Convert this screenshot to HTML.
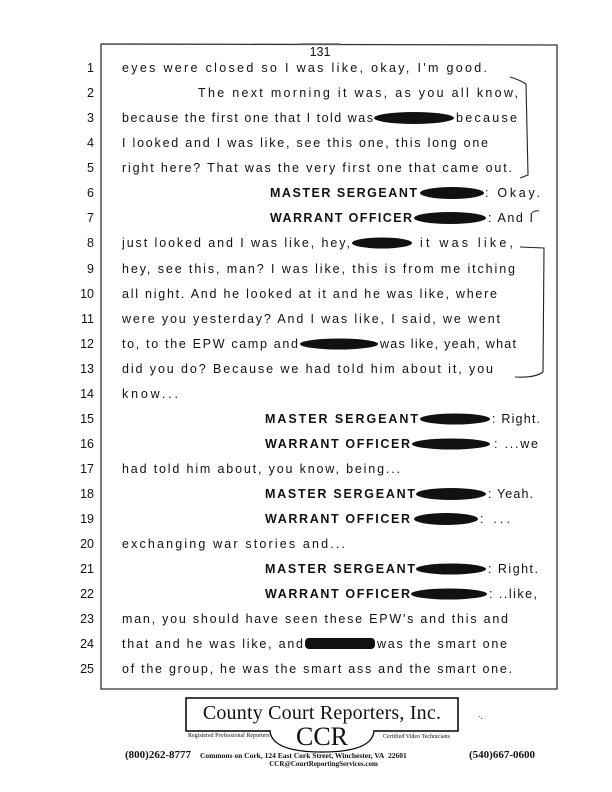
<!DOCTYPE html>
<html><head><meta charset="utf-8"><style>
body{margin:0;width:612px;height:792px;background:#fff;position:relative;overflow:hidden;font-family:"Liberation Sans",sans-serif;color:#111}
</style></head><body>
<svg width="612" height="792" style="position:absolute;left:0;top:0" font-family="Liberation Sans, sans-serif" font-size="12.5" fill="#111">
<path d="M101 44 L557 45 L557 689 L101 689 Z" fill="none" stroke="#333" stroke-width="1.3"/>
<line x1="300" y1="44" x2="340" y2="44" stroke="#666" stroke-width="1.5"/>
<path d="M510 77 Q520 80 526 84 L528 175 L520 178" fill="none" stroke="#222" stroke-width="1.1"/>
<path d="M532 213 Q535 210 539 211" fill="none" stroke="#222" stroke-width="1.1"/>
<path d="M520 247 L544 248 L543 372 Q535 378 515 377" fill="none" stroke="#222" stroke-width="1.1"/>
<text x="320" y="56" text-anchor="middle">131</text>
<g text-anchor="end">
<text x="94" y="72">1</text><text x="94" y="97">2</text><text x="94" y="122">3</text><text x="94" y="147">4</text><text x="94" y="172">5</text><text x="94" y="197">6</text><text x="94" y="222">7</text><text x="94" y="247">8</text><text x="94" y="273">9</text><text x="94" y="298">10</text><text x="94" y="323">11</text><text x="94" y="348">12</text><text x="94" y="373">13</text><text x="94" y="398">14</text><text x="94" y="423">15</text><text x="94" y="448">16</text><text x="94" y="473">17</text><text x="94" y="498">18</text><text x="94" y="523">19</text><text x="94" y="548">20</text><text x="94" y="573">21</text><text x="94" y="598">22</text><text x="94" y="623">23</text><text x="94" y="648">24</text><text x="94" y="673">25</text>
</g>
<g>
<text x="122" y="72" textLength="365" lengthAdjust="spacing">eyes were closed so I was like, okay, I'm good.</text>
<text x="198" y="97" textLength="320" lengthAdjust="spacing">The next morning it was, as you all know,</text>
<text x="122" y="122" textLength="251" lengthAdjust="spacing">because the first one that I told was</text>
<ellipse cx="414" cy="118" rx="40" ry="6"/>
<text x="456" y="122" textLength="61" lengthAdjust="spacing">because</text>
<text x="122" y="147" textLength="366" lengthAdjust="spacing">I looked and I was like, see this one, this long one</text>
<text x="122" y="172" textLength="390" lengthAdjust="spacing">right here? That was the very first one that came out.</text>
<text x="270" y="197" textLength="147" lengthAdjust="spacing" font-weight="bold">MASTER SERGEANT</text>
<ellipse cx="452" cy="193" rx="32" ry="6"/>
<text x="485" y="197" textLength="55" lengthAdjust="spacing">: Okay.</text>
<text x="270" y="222" textLength="142" lengthAdjust="spacing" font-weight="bold">WARRANT OFFICER</text>
<ellipse cx="450" cy="218" rx="36" ry="6"/>
<text x="488" y="222" textLength="45" lengthAdjust="spacing">: And I</text>
<text x="122" y="247" textLength="228" lengthAdjust="spacing">just looked and I was like, hey,</text>
<ellipse cx="382" cy="243" rx="30" ry="5.5"/>
<text x="420" y="247" textLength="93" lengthAdjust="spacing">it was like,</text>
<text x="122" y="273" textLength="393" lengthAdjust="spacing">hey, see this, man? I was like, this is from me itching</text>
<text x="122" y="298" textLength="375" lengthAdjust="spacing">all night. And he looked at it and he was like, where</text>
<text x="122" y="323" textLength="378" lengthAdjust="spacing">were you yesterday? And I was like, I said, we went</text>
<text x="122" y="348" textLength="176" lengthAdjust="spacing">to, to the EPW camp and</text>
<ellipse cx="339" cy="344" rx="39" ry="5.5"/>
<text x="380" y="348" textLength="136" lengthAdjust="spacing">was like, yeah, what</text>
<text x="122" y="373" textLength="371" lengthAdjust="spacing">did you do? Because we had told him about it, you</text>
<text x="122" y="398" textLength="56" lengthAdjust="spacing">know...</text>
<text x="265" y="423" textLength="153" lengthAdjust="spacing" font-weight="bold">MASTER SERGEANT</text>
<ellipse cx="455" cy="419" rx="35" ry="5.5"/>
<text x="492" y="423" textLength="48" lengthAdjust="spacing">: Right.</text>
<text x="265" y="448" textLength="145" lengthAdjust="spacing" font-weight="bold">WARRANT OFFICER</text>
<ellipse cx="451" cy="444" rx="39" ry="5.5"/>
<text x="494" y="448" textLength="44" lengthAdjust="spacing">: ...we</text>
<text x="122" y="473" textLength="278" lengthAdjust="spacing">had told him about, you know, being...</text>
<text x="265" y="498" textLength="150" lengthAdjust="spacing" font-weight="bold">MASTER SERGEANT</text>
<ellipse cx="451" cy="494" rx="35" ry="6"/>
<text x="488" y="498" textLength="45" lengthAdjust="spacing">: Yeah.</text>
<text x="265" y="523" textLength="145" lengthAdjust="spacing" font-weight="bold">WARRANT OFFICER</text>
<ellipse cx="446" cy="519" rx="32" ry="6"/>
<text x="480" y="523" textLength="30" lengthAdjust="spacing">: ...</text>
<text x="122" y="548" textLength="223" lengthAdjust="spacing">exchanging war stories and...</text>
<text x="265" y="573" textLength="150" lengthAdjust="spacing" font-weight="bold">MASTER SERGEANT</text>
<ellipse cx="451" cy="569" rx="35" ry="5.5"/>
<text x="488" y="573" textLength="50" lengthAdjust="spacing">: Right.</text>
<text x="265" y="598" textLength="145" lengthAdjust="spacing" font-weight="bold">WARRANT OFFICER</text>
<ellipse cx="449" cy="594" rx="38" ry="5.5"/>
<text x="489" y="598" textLength="48" lengthAdjust="spacing">: ..like,</text>
<text x="122" y="623" textLength="386" lengthAdjust="spacing">man, you should have seen these EPW's and this and</text>
<text x="122" y="648" textLength="181" lengthAdjust="spacing">that and he was like, and</text>
<rect x="305" y="638" width="70" height="11" rx="4"/>
<text x="377" y="648" textLength="130" lengthAdjust="spacing">was the smart one</text>
<text x="122" y="673" textLength="390" lengthAdjust="spacing">of the group, he was the smart ass and the smart one.</text>
</g>
<rect x="186" y="698" width="272" height="33" fill="none" stroke="#000" stroke-width="1.5"/>
<path d="M270 731 Q272 752 322 752 Q372 752 374 731" fill="#fff" stroke="#000" stroke-width="1.3"/>
<rect x="271" y="729" width="102" height="4" fill="#fff"/>
</svg>
<div style="position:absolute;left:186px;top:700px;width:272px;text-align:center;font-family:'Liberation Serif',serif;font-size:20px;line-height:26px;letter-spacing:0.2px">County Court Reporters, Inc.</div>
<div style="position:absolute;left:270px;top:722px;width:104px;text-align:center;font-family:'Liberation Serif',serif;font-size:26px;line-height:30px">CCR</div>
<div style="position:absolute;left:188px;top:733px;font-family:'Liberation Serif',serif;font-size:6px">Registered Professional Reporters</div>
<div style="position:absolute;left:383px;top:734px;font-family:'Liberation Serif',serif;font-size:6px">Certified Video Technicians</div>
<div style="position:absolute;left:478px;top:712px;font-size:8px">·.</div>
<div style="position:absolute;left:125px;top:749px;font-family:'Liberation Serif',serif;font-weight:bold;font-size:11px;white-space:nowrap">(800)262-8777</div>
<div style="position:absolute;left:200px;top:751px;font-family:'Liberation Serif',serif;font-weight:bold;font-size:7.5px;white-space:nowrap">Commons on Cork, 124 East Cork Street, Winchester, VA&nbsp; 22601</div>
<div style="position:absolute;left:469px;top:749px;font-family:'Liberation Serif',serif;font-weight:bold;font-size:11px;white-space:nowrap">(540)667-0600</div>
<div style="position:absolute;left:200px;top:760px;width:247px;text-align:center;font-family:'Liberation Serif',serif;font-weight:bold;font-size:7px">CCR@CourtReportingServices.com</div>
</body></html>
